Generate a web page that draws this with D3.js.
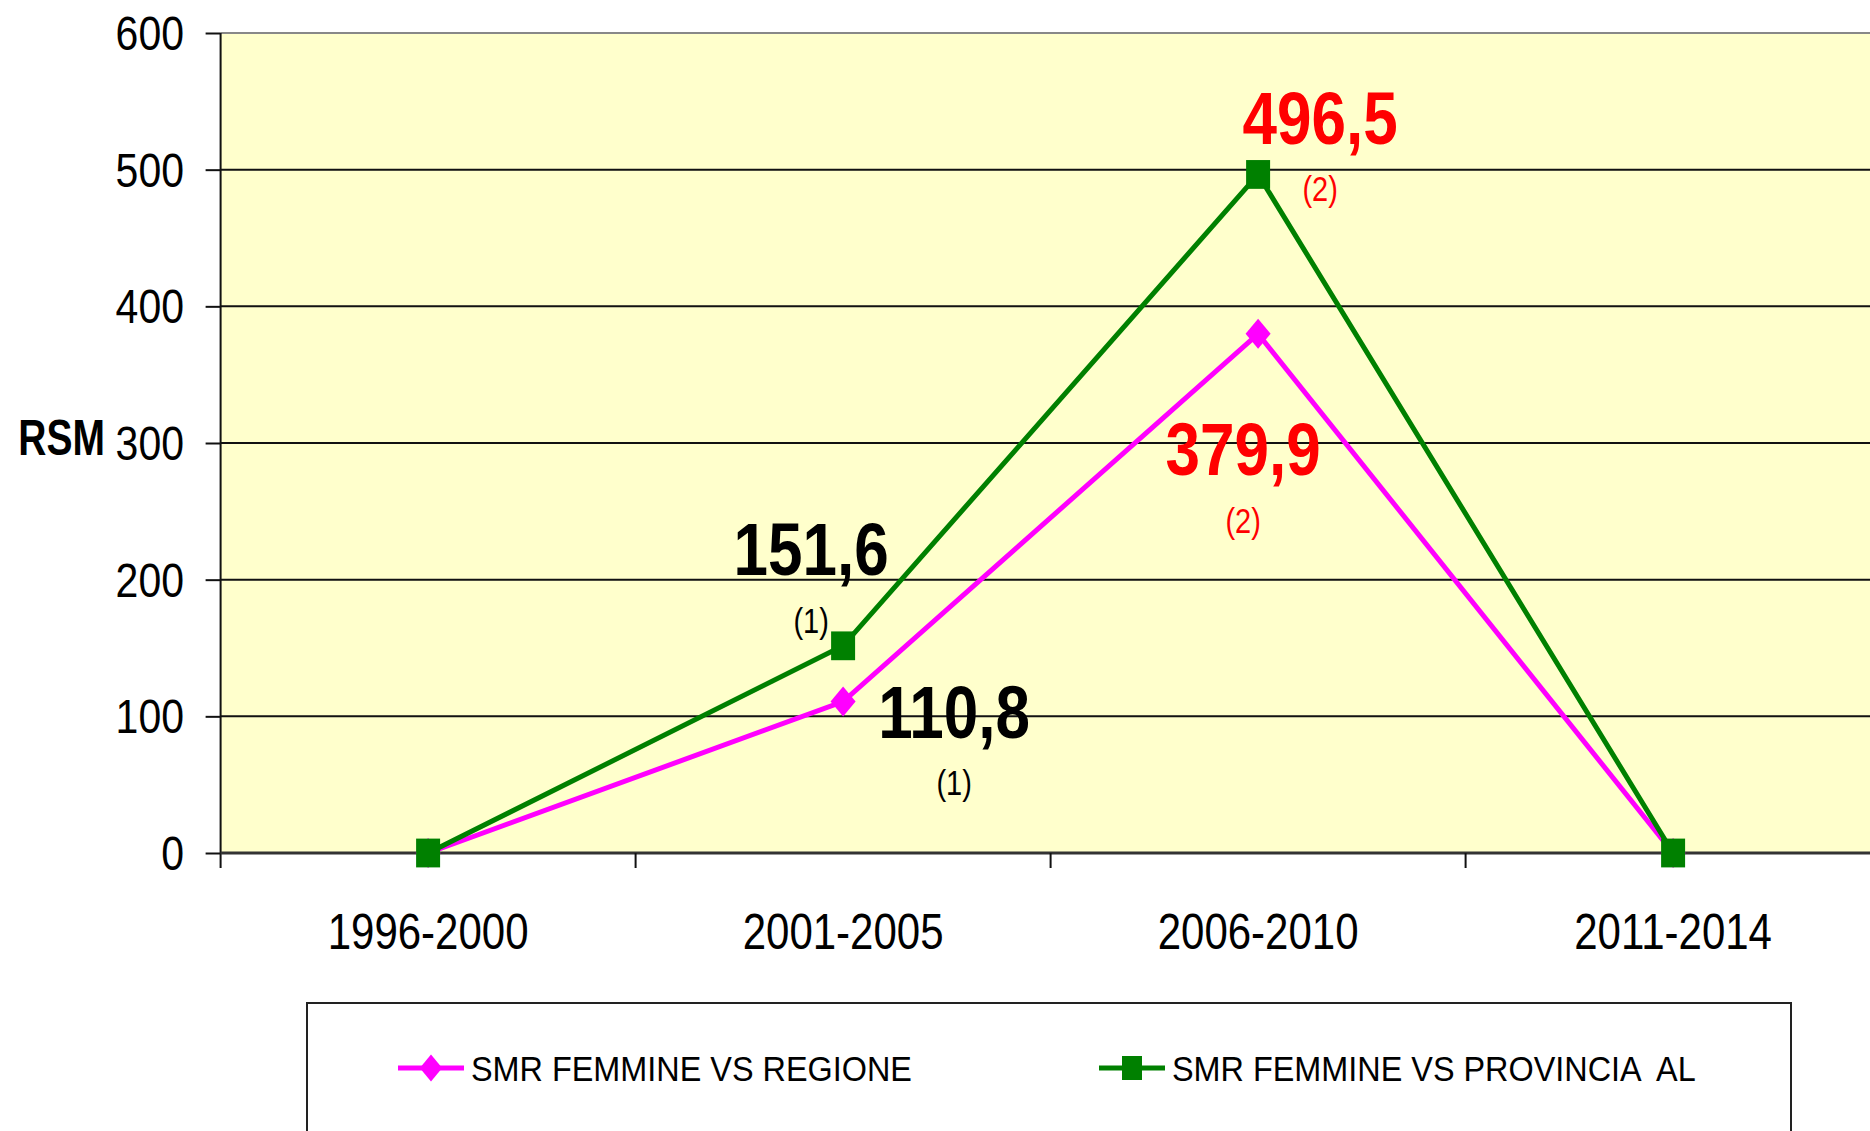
<!DOCTYPE html>
<html>
<head>
<meta charset="utf-8">
<script src="https://cdn.jsdelivr.net/npm/d3@7"></script>
<style>
  html, body { margin: 0; padding: 0; background: #fff; }
  svg { display: block; font-family: "Liberation Sans", Arial, sans-serif; }
  text { white-space: pre; }
</style>
</head>
<body>
<div id="chart"></div>
<script>
// data
const periods = ['1996-2000', '2001-2005', '2006-2010', '2011-2014'];
const regione = [0, 110.8, 379.9, 0];
const provincia = [0, 151.6, 496.5, 0];
const yTicks = [0, 100, 200, 300, 400, 500, 600];
const seriesNames = ['SMR FEMMINE VS REGIONE', 'SMR FEMMINE VS PROVINCIA  AL'];
const labelTexts = ['151,6', '110,8', '496,5', '379,9'];
const labelNotes = ['(1)', '(1)', '(2)', '(2)'];

const w = 1870;
const h = 1131;
const margin = ({ top: 33, left: 220.6, bottom: 853 });

const svg = d3.select('#chart')
  .append('svg')
  .attr('width', w)
  .attr('height', h);

svg.append('rect').attr('width', w).attr('height', h).attr('fill', '#fff');

// scales
const xScale = d3.scaleBand()
  .domain(periods)
  .range([margin.left, margin.left + 4 * 415]);

const yScale = d3.scaleLinear()
  .domain([0, 600])
  .range([margin.bottom, margin.top]);

const cx = d => xScale(d) + xScale.bandwidth() / 2;

// text helper, the original font is drawn a bit taller than wide
const label = (g, x, y, txt, size, sy, opts = {}) => g.append('text')
  .attr('transform', `translate(${x},${y}) scale(1,${sy})`)
  .attr('text-anchor', opts.anchor || 'middle')
  .attr('font-size', size)
  .attr('font-weight', opts.bold ? 'bold' : 'normal')
  .attr('fill', opts.fill || '#000')
  .text(txt);

// plot background
svg.append('rect')
  .attr('x', margin.left)
  .attr('y', margin.top)
  .attr('width', w - margin.left)
  .attr('height', margin.bottom - margin.top)
  .attr('fill', '#ffffcc');

// grid lines
svg.append('g')
  .selectAll('line')
  .data(yTicks.filter(d => d > 0))
  .enter()
  .append('line')
  .attr('x1', margin.left)
  .attr('x2', w)
  .attr('y1', d => yScale(d))
  .attr('y2', d => yScale(d))
  .attr('stroke', d => d === 600 ? '#888' : '#111')
  .attr('stroke-width', 2);

// y axis
const yAxis = d3.axisLeft(yScale)
  .tickValues(yTicks)
  .tickSize(15)
  .tickFormat('');

svg.append('g')
  .classed('y-axis', true)
  .attr('transform', `translate(${margin.left}, 0)`)
  .call(yAxis);

svg.selectAll('.y-axis .domain').remove();
svg.selectAll('.y-axis .tick line').attr('stroke', '#111').attr('stroke-width', 2);

svg.append('line')
  .attr('x1', margin.left).attr('x2', margin.left)
  .attr('y1', margin.top).attr('y2', margin.bottom + 15)
  .attr('stroke', '#111').attr('stroke-width', 2);

const yLabels = svg.append('g');
yTicks.forEach(t => label(yLabels, 184, yScale(t) + 17, t, 41, 1.15, { anchor: 'end' }));

label(svg, 105, 455, 'RSM', 39, 1.3, { anchor: 'end', bold: true });

// x axis
svg.append('line')
  .attr('x1', margin.left).attr('x2', w)
  .attr('y1', yScale(0)).attr('y2', yScale(0))
  .attr('stroke', '#333').attr('stroke-width', 3);

svg.append('g')
  .selectAll('line')
  .data(periods.slice(1))
  .enter()
  .append('line')
  .attr('x1', d => xScale(d)).attr('x2', d => xScale(d))
  .attr('y1', yScale(0)).attr('y2', yScale(0) + 15)
  .attr('stroke', '#111').attr('stroke-width', 2);

const xLabels = svg.append('g');
periods.forEach(p => label(xLabels, cx(p), 949, p, 42, 1.2));

// lines
const line = d3.line()
  .x((d, i) => cx(periods[i]))
  .y(d => yScale(d));

const pink = '#ff00ff';
const green = '#008000';

svg.append('path')
  .datum(regione)
  .attr('d', line)
  .attr('fill', 'none')
  .attr('stroke', pink)
  .attr('stroke-width', 5);

svg.append('g')
  .selectAll('path')
  .data(regione)
  .enter()
  .append('path')
  .attr('d', d3.symbol().type(d3.symbolSquare).size(313))
  .attr('transform', (d, i) => `translate(${cx(periods[i])},${yScale(d)}) scale(1,1.2) rotate(45)`)
  .attr('fill', pink);

svg.append('path')
  .datum(provincia)
  .attr('d', line)
  .attr('fill', 'none')
  .attr('stroke', green)
  .attr('stroke-width', 5);

svg.append('g')
  .selectAll('path')
  .data(provincia)
  .enter()
  .append('path')
  .attr('d', d3.symbol().type(d3.symbolSquare).size(576))
  .attr('transform', (d, i) => `translate(${cx(periods[i])},${yScale(d)}) scale(1,1.2)`)
  .attr('fill', green);

// value annotations
const notes = [
  { v: provincia[1], p: periods[1], dx: -32, dy: -71, ndy: -13, fill: '#000' },
  { v: regione[1], p: periods[1], dx: 111, dy: 36, ndy: 93, fill: '#000' },
  { v: provincia[2], p: periods[2], dx: 62, dy: -30, ndy: 27, fill: '#ff0000' },
  { v: regione[2], p: periods[2], dx: -15, dy: 141, ndy: 199, fill: '#ff0000' }
];

const ann = svg.append('g');
notes.forEach((n, i) => {
  const x = cx(n.p) + n.dx;
  const y = yScale(n.v);
  label(ann, x, y + n.dy, labelTexts[i], 62, 1.2, { bold: true, fill: n.fill });
  label(ann, x, y + n.ndy, labelNotes[i], 29, 1.2, { fill: n.fill });
});

// legend
svg.append('rect')
  .attr('x', 307)
  .attr('y', 1003)
  .attr('width', 1484)
  .attr('height', 200)
  .attr('fill', '#fff')
  .attr('stroke', '#222')
  .attr('stroke-width', 2);

const legend = svg.append('g');
const legendItems = [
  { x: 398, colour: pink, shape: 'diamond' },
  { x: 1099, colour: green, shape: 'square' }
];

legendItems.forEach((item, i) => {
  legend.append('line')
    .attr('x1', item.x).attr('x2', item.x + 66)
    .attr('y1', 1068).attr('y2', 1068)
    .attr('stroke', item.colour).attr('stroke-width', 5);
  legend.append('path')
    .attr('d', d3.symbol().type(d3.symbolSquare).size(item.shape === 'square' ? 400 : 250))
    .attr('transform', `translate(${item.x + 33},1068) scale(1,1.2)${item.shape === 'diamond' ? ' rotate(45)' : ''}`)
    .attr('fill', item.colour);
  label(legend, item.x + 73, 1081, seriesNames[i], 32.4, 1.1, { anchor: 'start' });
});
</script>
</body>
</html>
